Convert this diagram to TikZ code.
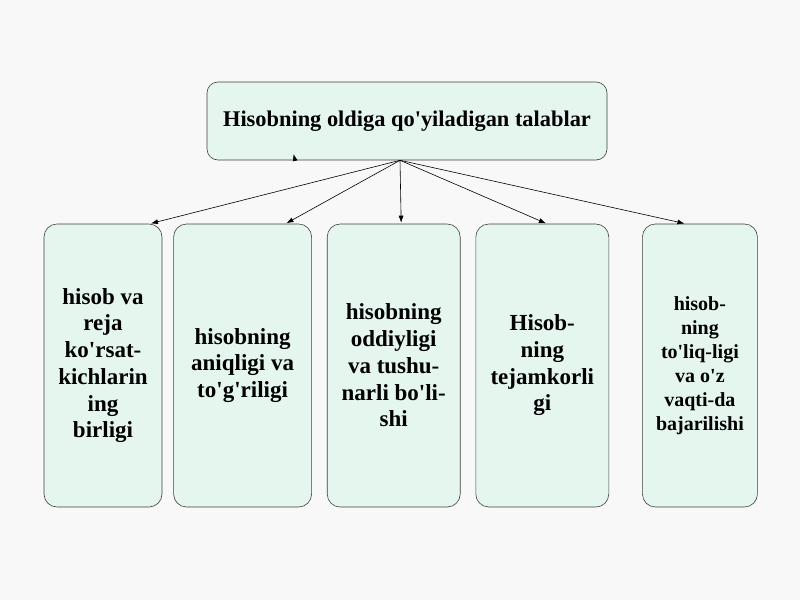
\documentclass[tikz,border=0pt]{standalone}
\usepackage{fontspec}
\setmainfont{Liberation Serif}[Ligatures=TeXOff]
\usetikzlibrary{positioning,arrows.meta}
\definecolor{mint}{RGB}{229,246,239}
\definecolor{paper}{RGB}{248,248,248}
\def\gap{15pt}
\tikzstyle{req}=[draw=black!75,fill=mint,rounded corners=13pt,align=center,
  minimum height=283pt,inner sep=2pt,font=\bfseries\fontsize{23}{26.7}\selectfont]
\newcommand{\newReq}[4]{\node[req,minimum width=#3,#4](#1){#2};}
\newcommand{\newLink}[2]{\draw[->] (hub) -- ([xshift=#2]#1.north);}

\begin{document}
\begin{tikzpicture}[x=1pt,y=-1pt,
      >={Latex[length=7pt,width=5pt]},shorten >=1pt,
      semithick
      ]
      \fill[paper] (0,0) rectangle (800,600);
      \useasboundingbox (0,0) rectangle (800,600);
      \node[req,minimum width=400pt,minimum height=78pt,rounded corners=11pt,
        font=\bfseries\fontsize{22.4}{26}\selectfont] (top) at (407,121)
        {Hisobning oldiga qo'yiladigan talablar};
      \coordinate (hub) at ([xshift=-7pt]top.south);
      \newReq{b1}{hisob va\\reja\\ko'rsat-\\kichlarin\\ing\\birligi}{118pt}{at={(103,365.5)}}
      \newReq{b2}{hisobning\\aniqligi va\\to'g'riligi}{138pt}{right=11pt of b1}
      \newReq{b3}{hisobning\\oddiyligi\\va tushu-\\narli bo'li-\\shi}{133pt}{right=\gap of b2}
      \newReq{b4}{Hisob-\\ning\\tejamkorli\\gi}{133pt}{right=\gap of b3}
      \node[req,minimum width=115pt,right=33pt of b4,
        font=\bfseries\fontsize{20}{24}\selectfont] (b5)
        {hisob-\\ning\\to'liq-ligi\\va o'z\\vaqti-da\\bajarilishi};
      \newLink{b1}{47pt}
      \newLink{b2}{43pt}
      \newLink{b3}{7.5pt}
      \newLink{b4}{4.5pt}
      \newLink{b5}{-14.5pt}
      % small stray tip under the title
      \coordinate (stray) at (295,160);
      \draw[->,shorten >=0pt] (stray) -- ++(-1.5,-6);
    \end{tikzpicture}
\end{document}
